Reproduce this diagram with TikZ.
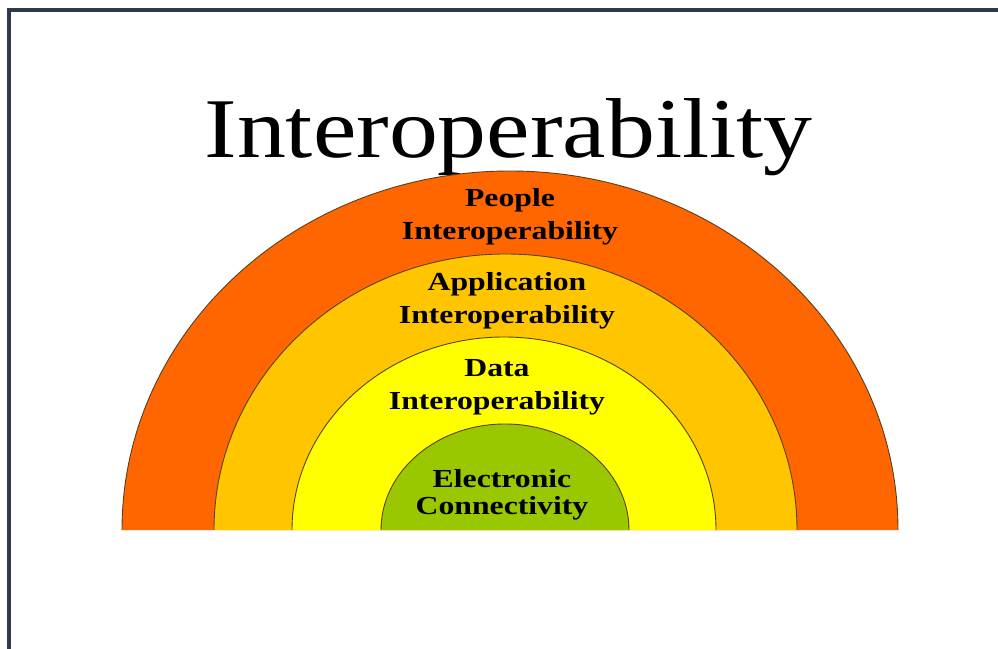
\documentclass[tikz,border=0pt]{standalone}
\usepackage{fontspec}
\setmainfont{Liberation Serif}

\definecolor{ringpeople}{HTML}{FF6600}
\definecolor{ringapp}{HTML}{FFC600}
\definecolor{ringdata}{HTML}{FFFF00}
\definecolor{ringconn}{HTML}{99C800}
\definecolor{framecol}{HTML}{2E3A4B}
\definecolor{edgecol}{HTML}{5A4020}

\begin{document}
\begin{tikzpicture}[x=1pt,y=1pt,
  ringedge/.style={draw=edgecol,line width=0.9pt},
  ringlabel/.style={align=center,anchor=base,xscale=1.22,
    font=\bfseries\fontsize{26}{33}\selectfont}]

\useasboundingbox (0,0) rectangle (998,648);

% base line of all rings
\def\yb{118}

% frame, open to the right and bottom
\draw[framecol,line width=3.2pt] (9,-20) rectangle (1020,638);

%=== Title ===
\node[anchor=base,xscale=1.15,font=\fontsize{85}{90}\selectfont]
  (title) at (508.5,490) {Interoperability};

%=== Rings, outside in ===
% People
\fill[ringpeople] (122,\yb) arc[start angle=180,end angle=0,x radius=388pt,y radius=359pt] -- cycle;
\draw[ringedge] (122,\yb) arc[start angle=180,end angle=0,x radius=388pt,y radius=359pt];
% Application
\fill[ringapp] (214,\yb) arc[start angle=180,end angle=0,x radius=291.5pt,y radius=276pt] -- cycle;
\draw[ringedge] (214,\yb) arc[start angle=180,end angle=0,x radius=291.5pt,y radius=276pt];
% Data
\fill[ringdata] (292,\yb) arc[start angle=180,end angle=0,x radius=212pt,y radius=193pt] -- cycle;
\draw[ringedge] (292,\yb) arc[start angle=180,end angle=0,x radius=212pt,y radius=193pt];
% Connectivity
\fill[ringconn] (381,\yb) arc[start angle=180,end angle=0,x radius=124pt,y radius=106pt] -- cycle;
\draw[ringedge] (381,\yb) arc[start angle=180,end angle=0,x radius=124pt,y radius=106pt];

%=== Ring labels (anchored on the last line) ===
\node[ringlabel] (people) at (510,408) {People\\Interoperability};
\node[ringlabel] (app) at (507,324) {Application\\Interoperability};
\node[ringlabel] (data) at (497,238) {Data\\Interoperability};
\node[ringlabel,font=\bfseries\fontsize{26}{27}\selectfont]
  (conn) at (502,133) {Electronic\\Connectivity};

\end{tikzpicture}
\end{document}
